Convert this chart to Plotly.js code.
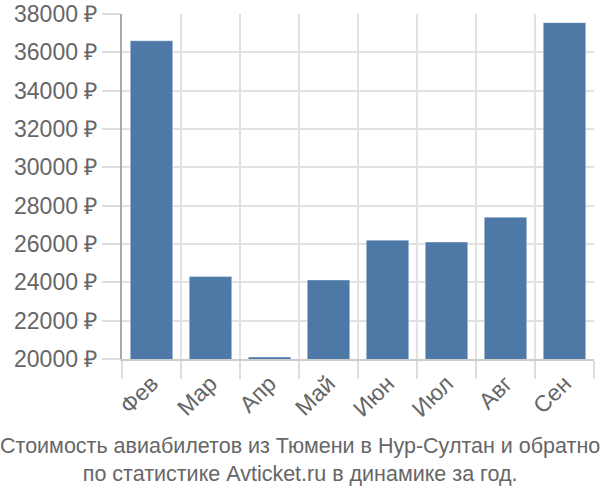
<!DOCTYPE html>
<html><head><meta charset="utf-8">
<script src="https://cdn.plot.ly/plotly-3.0.1.min.js"></script>
<style>body{margin:0}#c{width:600px;height:500px}</style>
</head><body><div id="c"></div>
<script>
var months = ["Фев","Мар","Апр","Май","Июн","Июл","Авг","Сен"];
var prices = [36600, 24300, 20100, 24120, 26200, 26100, 27400, 37550];
var tickVals = [20000,22000,24000,26000,28000,30000,32000,34000,36000,38000];
var tickText = tickVals.map(function(v){return v + " ₽";});
var titleLines = ["Стоимость авиабилетов из Тюмени в Нур-Султан и обратно","по статистике Avticket.ru в динамике за год."];

var data = [{
  type: "bar", x: months, y: prices,
  marker: {color: "#4e79a7", line: {color: "rgba(255,255,255,0.35)", width: 1}},
  width: 0.72, hoverinfo: "none"
}];
var layout = {
  width: 600, height: 500,
  margin: {l: 122, r: 6, t: 14, b: 141},
  paper_bgcolor: "#fff", plot_bgcolor: "#fff",
  font: {family: "Liberation Sans, Arial, sans-serif", color: "#666", size: 23},
  showlegend: false,
  xaxis: {
    type: "category", tickson: "boundaries", ticks: "outside", ticklen: 18, tickcolor: "#ddd", tickwidth: 2,
    showgrid: true, gridcolor: "#e2e2e2", gridwidth: 2,
    showline: true, linecolor: "#ccc", linewidth: 2,
    tickangle: -45, tickfont: {size: 23, color: "#666"}
  },
  yaxis: {
    range: [20000, 38000], tickvals: tickVals, ticktext: tickText,
    ticks: "outside", ticklen: 18, tickcolor: "#ddd", tickwidth: 2,
    showgrid: true, gridcolor: "#e2e2e2", gridwidth: 2, zeroline: false,
    showline: true, linecolor: "#aaa", linewidth: 2,
    tickfont: {size: 23, color: "#666"}
  },
  annotations: [{
    xref: "paper", yref: "paper", x: 0.5, y: 0, xanchor: "center", yanchor: "top",
    xshift: -58, yshift: -73,
    text: titleLines.join("<br>"), showarrow: false,
    font: {size: 21.5, color: "#666"}
  }]
};
Plotly.newPlot("c", data, layout, {displayModeBar: false, staticPlot: true});
</script>
</body></html>
